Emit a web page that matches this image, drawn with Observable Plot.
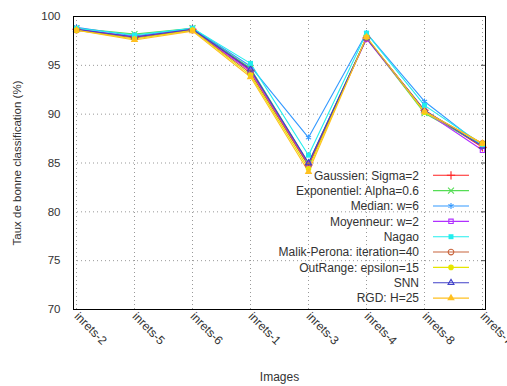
<!DOCTYPE html>
<html><head><meta charset="utf-8">
<script src="https://cdn.jsdelivr.net/npm/d3@7"></script>
<script src="https://cdn.jsdelivr.net/npm/@observablehq/plot@0.6"></script>
<style>
body{margin:0;background:#fff;}
#chart{position:relative;width:507px;height:386px;font-family:"Liberation Sans",Arial,sans-serif;overflow:hidden;}
#chart svg{display:block;}
#legend{position:absolute;left:0;top:0;pointer-events:none;}
</style></head><body><div id="chart"></div>
<script>
const categories = ["inrets-2","inrets-5","inrets-6","inrets-1","inrets-3","inrets-4","inrets-8","inrets-7"];
const seriesNames = ["Gaussien: Sigma=2","Exponentiel: Alpha=0.6","Median: w=6","Moyenneur: w=2","Nagao","Malik-Perona: iteration=40","OutRange: epsilon=15","SNN","RGD: H=25"];
const gaussien    = [98.7, 97.9, 98.7, 94.5, 84.8, 97.8, 90.4, 86.6];
const exponentiel = [98.8, 98.2, 98.8, 94.7, 85.0, 97.8, 90.1, 86.8];
const median      = [98.9, 98.0, 98.8, 94.9, 87.6, 98.3, 91.3, 86.7];
const moyenneur   = [98.7, 97.9, 98.6, 94.4, 84.9, 97.7, 90.3, 86.3];
const nagao       = [98.8, 98.1, 98.8, 95.2, 85.8, 98.3, 90.9, 86.9];
const malik       = [98.6, 97.8, 98.6, 94.2, 84.7, 97.8, 90.3, 87.0];
const outrange    = [98.6, 97.7, 98.6, 94.0, 84.4, 97.9, 90.2, 87.0];
const snn         = [98.7, 97.9, 98.7, 94.6, 85.0, 97.8, 90.4, 86.7];
const rgd         = [98.6, 97.6, 98.5, 93.8, 84.1, 97.9, 90.3, 87.0];
const seriesValues = [gaussien, exponentiel, median, moyenneur, nagao, malik, outrange, snn, rgd];
const seriesColors = ["#ff2020","#55dd55","#3399ff","#b030ff","#22eeee","#c8643c","#e6e600","#4040c8","#ffc020"];
const seriesSymbols = ["plus","times","asterisk","square2","square","circle","circle","triangle2","triangle"];
const seriesFilled = [false,false,false,false,true,false,true,false,true];
const yTicks = [70,75,80,85,90,95,100];

const rows = seriesNames.flatMap((s,i)=>categories.map((c,j)=>({series:s, image:c, value:seriesValues[i][j], filled:seriesFilled[i]})));

const font = '"Liberation Sans",Arial,sans-serif';
const plot = Plot.plot({
  width:507, height:386, marginLeft:73, marginRight:22, marginTop:16, marginBottom:77,
  style:{fontFamily:font, fontSize:"12px", color:"#333", background:"transparent", overflow:"visible"},
  x:{type:"point", domain:categories, padding:0},
  y:{domain:[70,100]},
  color:{domain:seriesNames, range:seriesColors},
  symbol:{domain:seriesNames, range:seriesSymbols},
  marks:[
    Plot.gridX(categories, {stroke:"#999", strokeOpacity:1, strokeDasharray:"1,3"}),
    Plot.gridY(yTicks, {stroke:"#999", strokeOpacity:1, strokeDasharray:"1,3"}),
    Plot.line(rows, {x:"image", y:"value", z:"series", stroke:"series", strokeWidth:1.1}),
    Plot.dot(rows.filter(d=>!d.filled), {x:"image", y:"value", stroke:"series", symbol:"series", r:2.8, fill:"none", strokeWidth:1.1}),
    Plot.dot(rows.filter(d=>d.filled), {x:"image", y:"value", fill:"series", symbol:"series", r:2.8}),
    Plot.axisY(yTicks, {anchor:"left", tickSize:0, tickPadding:13, fontSize:11.5, label:"Taux de bonne classification (%)", labelAnchor:"center", labelArrow:"none", labelOffset:61}),
    Plot.axisY(yTicks, {anchor:"right", tickSize:-5, tickFormat:() => "", label:null, stroke:"#555"}),
    Plot.axisX(categories, {anchor:"bottom", tickRotate:45, textAnchor:"start", tickSize:0, tickPadding:5, fontSize:12, label:"Images", labelAnchor:"center", labelArrow:"none", labelOffset:71}),
    Plot.frame({stroke:"#000"})
  ]
});
const chart = document.getElementById("chart");
chart.appendChild(plot);

// legend overlay
const symMap = {plus:d3.symbolPlus, times:d3.symbolTimes, asterisk:d3.symbolAsterisk, square2:d3.symbolSquare2, square:d3.symbolSquare, circle:d3.symbolCircle, triangle2:d3.symbolTriangle2, triangle:d3.symbolTriangle};
const leg = d3.select(chart).append("svg").attr("id","legend").attr("width",507).attr("height",386)
  .style("font-family", font).style("font-size","12px");
seriesNames.forEach((name,i)=>{
  const y = 175.3 + i*15.35;
  const g = leg.append("g");
  g.append("text").attr("x",419).attr("y",y).attr("dy","0.35em").attr("text-anchor","end").attr("fill","#333").text(name);
  g.append("line").attr("x1",433).attr("x2",469).attr("y1",y).attr("y2",y).attr("stroke",seriesColors[i]).attr("stroke-width",1.1);
  g.append("path").attr("transform",`translate(451,${y})`).attr("d", d3.symbol(symMap[seriesSymbols[i]], 2.8*2.8*Math.PI)())
    .attr("fill", seriesFilled[i] ? seriesColors[i] : "none").attr("stroke", seriesFilled[i] ? "none" : seriesColors[i]).attr("stroke-width",1.1);
});
</script></body></html>
